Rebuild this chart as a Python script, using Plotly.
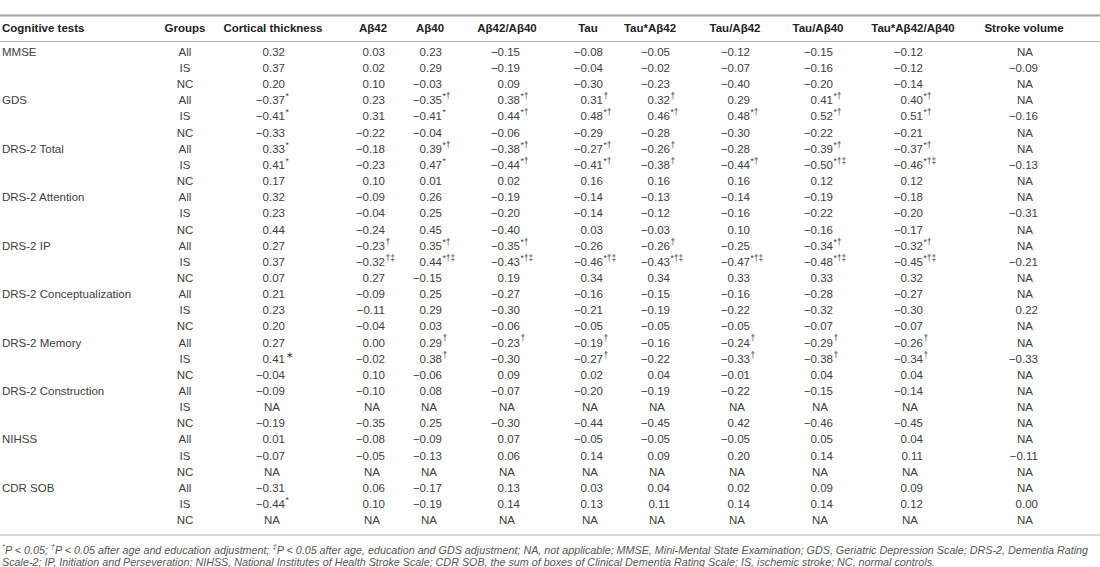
import re
import plotly.graph_objects as go

# ---- table content -------------------------------------------------------
TESTS = ["MMSE", "GDS", "DRS-2 Total", "DRS-2 Attention", "DRS-2 IP",
         "DRS-2 Conceptualization", "DRS-2 Memory", "DRS-2 Construction",
         "NIHSS", "CDR SOB"]
GROUPS = ["All", "IS", "NC"]

HEADERS = ["Cortical thickness", "Aβ42", "Aβ40", "Aβ42/Aβ40", "Tau",
           "Tau*Aβ42", "Tau/Aβ42", "Tau/Aβ40", "Tau*Aβ42/Aβ40", "Stroke volume"]

# one list per column, 3 rows (All, IS, NC) per cognitive test
CORTICAL = ["0.32", "0.37", "0.20", "-0.37*", "-0.41*", "-0.33",
            "0.33*", "0.41*", "0.17", "0.32", "0.23", "0.44",
            "0.27", "0.37", "0.07", "0.21", "0.23", "0.20",
            "0.27", "0.41∗", "-0.04", "-0.09", "NA", "-0.19",
            "0.01", "-0.07", "NA", "-0.31", "-0.44*", "NA"]
AB42 = ["0.03", "0.02", "0.10", "0.23", "0.31", "-0.22",
        "-0.18", "-0.23", "0.10", "-0.09", "-0.04", "-0.24",
        "-0.23†", "-0.32†‡", "0.27", "-0.09", "-0.11", "-0.04",
        "0.00", "-0.02", "0.10", "-0.10", "NA", "-0.35",
        "-0.08", "-0.05", "NA", "0.06", "0.10", "NA"]
AB40 = ["0.23", "0.29", "-0.03", "-0.35*†", "-0.41*", "-0.04",
        "0.39*†", "0.47*", "0.01", "0.26", "0.25", "0.45",
        "0.35*†", "0.44*†‡", "-0.15", "0.25", "0.29", "0.03",
        "0.29†", "0.38†", "-0.06", "0.08", "NA", "0.25",
        "-0.09", "-0.13", "NA", "-0.17", "-0.19", "NA"]
AB_RATIO = ["-0.15", "-0.19", "0.09", "0.38*†", "0.44*†", "-0.06",
            "-0.38*†", "-0.44*†", "0.02", "-0.19", "-0.20", "-0.40",
            "-0.35*†", "-0.43*†‡", "0.19", "-0.27", "-0.30", "-0.06",
            "-0.23†", "-0.30", "0.09", "-0.07", "NA", "-0.30",
            "0.07", "0.06", "NA", "0.13", "0.14", "NA"]
TAU = ["-0.08", "-0.04", "-0.30", "0.31†", "0.48*†", "-0.29",
       "-0.27*†", "-0.41*†", "0.16", "-0.14", "-0.14", "0.03",
       "-0.26", "-0.46*†‡", "0.34", "-0.16", "-0.21", "-0.05",
       "-0.19†", "-0.27†", "0.02", "-0.20", "NA", "-0.44",
       "-0.05", "0.14", "NA", "0.03", "0.13", "NA"]
TAU_X_AB42 = ["-0.05", "-0.02", "-0.23", "0.32†", "0.46*†", "-0.28",
              "-0.26†", "-0.38†", "0.16", "-0.13", "-0.12", "-0.03",
              "-0.26†", "-0.43*†‡", "0.34", "-0.15", "-0.19", "-0.05",
              "-0.16", "-0.22", "0.04", "-0.19", "NA", "-0.45",
              "-0.05", "0.09", "NA", "0.04", "0.11", "NA"]
TAU_AB42 = ["-0.12", "-0.07", "-0.40", "0.29", "0.48*†", "-0.30",
            "-0.28", "-0.44*†", "0.16", "-0.14", "-0.16", "0.10",
            "-0.25", "-0.47*†‡", "0.33", "-0.16", "-0.22", "-0.05",
            "-0.24†", "-0.33†", "-0.01", "-0.22", "NA", "0.42",
            "-0.05", "0.20", "NA", "0.02", "0.14", "NA"]
TAU_AB40 = ["-0.15", "-0.16", "-0.20", "0.41*†", "0.52*†", "-0.22",
            "-0.39*†", "-0.50*†‡", "0.12", "-0.19", "-0.22", "-0.16",
            "-0.34*†", "-0.48*†‡", "0.33", "-0.28", "-0.32", "-0.07",
            "-0.29†", "-0.38†", "0.04", "-0.15", "NA", "-0.46",
            "0.05", "0.14", "NA", "0.09", "0.14", "NA"]
TAU_X_RATIO = ["-0.12", "-0.12", "-0.14", "0.40*†", "0.51*†", "-0.21",
               "-0.37*†", "-0.46*†‡", "0.12", "-0.18", "-0.20", "-0.17",
               "-0.32*†", "-0.45*†‡", "0.32", "-0.27", "-0.30", "-0.07",
               "-0.26†", "-0.34†", "0.04", "-0.14", "NA", "-0.45",
               "0.04", "0.11", "NA", "0.09", "0.12", "NA"]
STROKE = ["NA", "-0.09", "NA", "NA", "-0.16", "NA",
          "NA", "-0.13", "NA", "NA", "-0.31", "NA",
          "NA", "-0.21", "NA", "NA", "0.22", "NA",
          "NA", "-0.33", "NA", "NA", "NA", "NA",
          "NA", "-0.11", "NA", "NA", "0.00", "NA"]

COLUMNS = [CORTICAL, AB42, AB40, AB_RATIO, TAU, TAU_X_AB42,
           TAU_AB42, TAU_AB40, TAU_X_RATIO, STROKE]

FOOTNOTE_1 = ("<sup>*</sup>P < 0.05; <sup>†</sup>P < 0.05 after age and education adjustment; "
              "<sup>‡</sup>P < 0.05 after age, education and GDS adjustment; NA, not applicable; "
              "MMSE, Mini-Mental State Examination; GDS, Geriatric Depression Scale; "
              "DRS-2, Dementia Rating")
FOOTNOTE_2 = ("Scale-2; IP, Initiation and Perseveration; NIHSS, National Institutes of Health "
              "Stroke Scale; CDR SOB, the sum of boxes of Clinical Dementia Rating Scale; "
              "IS, ischemic stroke; NC, normal controls.")

# ---- layout ---------------------------------------------------------------
FONT = "Liberation Sans, Arial, Helvetica, sans-serif"
TXT = "#404040"
SIZE = 11.5
HEAD_X = [273, 373, 430, 507, 588, 650, 735, 818, 913, 1024]   # header centres
NUM_RIGHT = [285, 385, 442, 520, 603, 670, 750, 833, 923, 1038]  # right edge of numbers
GROUP_X = 185
H = 567
FIRST, STEP = 53.0, 16.15   # pixel row of first data line, row pitch


def rowpos(px):
    # pixel height -> row units of the y axis
    return (px - FIRST) / STEP


HEAD_Y = rowpos(29)

n_rows = len(TESTS) * len(GROUPS)
rows = list(range(n_rows))

fig = go.Figure()


def add_text(x, y, text, pos, size=SIZE, color=TXT):
    fig.add_trace(go.Scatter(x=x, y=y, text=text, mode="text", textposition=pos,
                             textfont=dict(family=FONT, size=size, color=color),
                             hoverinfo="skip", showlegend=False, cliponaxis=False))


# header row
add_text([2] + HEAD_X, [HEAD_Y] * (len(HEAD_X) + 1),
         ["<b>Cognitive tests</b>"] + ["<b>%s</b>" % h for h in HEADERS],
         ["middle right"] + ["middle center"] * len(HEAD_X), color="#222")
add_text([GROUP_X], [HEAD_Y], ["<b>Groups</b>"], "middle center", color="#222")

# row labels
add_text([2] * len(TESTS), [3 * k for k in range(len(TESTS))], TESTS, "middle right")
add_text([GROUP_X] * n_rows, rows, GROUPS * len(TESTS), "middle center")

# value columns: number right aligned, marks hang to the right, NA centred
for col, xr in zip(COLUMNS, NUM_RIGHT):
    nx, ny, nt, sx, sy, st, ax, ay = [], [], [], [], [], [], [], []
    for r, cell in zip(rows, col):
        if cell == "NA":
            ax.append(xr - 13)
            ay.append(r)
            continue
        m = re.match(r"^(-?\d\.\d\d)(.*)$", cell)
        nx.append(xr)
        ny.append(r)
        nt.append(m.group(1).replace("-", "\u2212"))
        if m.group(2):
            sx.append(xr + 0.5)
            sy.append(r - 0.27)
            st.append(m.group(2))
    add_text(nx, ny, nt, "middle left")
    if sx:
        add_text(sx, sy, st, "middle right", size=8.5)
    if ax:
        add_text(ax, ay, ["NA"] * len(ax), "middle center")

# rules
for px, w, c in [(15.5, 2, "#a0a0a0"), (41.5, 1.2, "#b0b0b0"), (535, 1.2, "#b0b0b0")]:
    fig.add_shape(type="line", xref="paper", x0=0, x1=1, yref="y",
                  y0=rowpos(px), y1=rowpos(px), line=dict(color=c, width=w))

# footnote
for px, t in [(549, FOOTNOTE_1), (562, FOOTNOTE_2)]:
    fig.add_annotation(xref="paper", x=0, xanchor="left", yref="y", y=rowpos(px),
                       yanchor="middle", text="<i>%s</i>" % t, showarrow=False,
                       font=dict(family=FONT, size=10.75, color="#555"))

fig.update_layout(width=1100, height=H, margin=dict(l=0, r=0, t=0, b=0),
                  paper_bgcolor="white", plot_bgcolor="white",
                  xaxis=dict(range=[0, 1100], visible=False, fixedrange=True),
                  yaxis=dict(range=[rowpos(H), rowpos(0)], visible=False, fixedrange=True))

fig.write_html("out.html", config={"displayModeBar": False},
               post_script="document.body.style.margin='0';")
